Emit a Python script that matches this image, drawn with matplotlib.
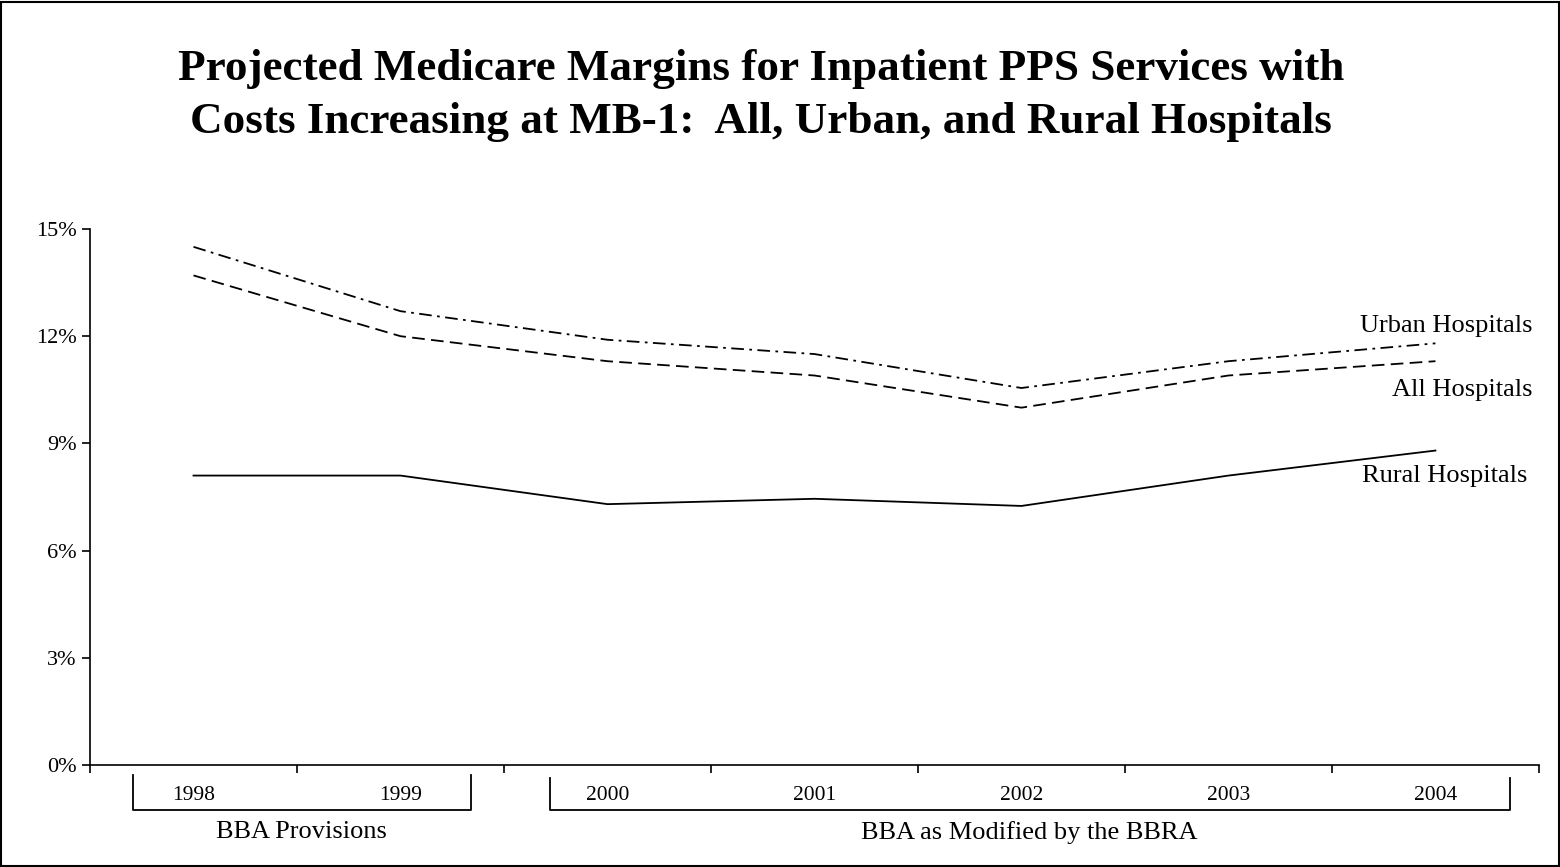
import numpy as np
import matplotlib.pyplot as plt
from matplotlib.patches import Rectangle

plt.rcParams['font.family'] = ['Liberation Serif', 'DejaVu Serif']

# data (margins in %)
years = ['1998', '1999', '2000', '2001', '2002', '2003', '2004']
urban = [14.5, 12.7, 11.9, 11.5, 10.55, 11.3, 11.8]
all_hosp = [13.7, 12.0, 11.3, 10.9, 10.0, 10.9, 11.3]
rural = [8.1, 8.1, 7.3, 7.45, 7.25, 8.1, 8.8]
yticks = [0, 3, 6, 9, 12, 15]

x = np.arange(len(years)) + 0.5

fig = plt.figure(figsize=(15.6, 8.67), dpi=100)
ax = fig.add_axes([0.0577, 0.1176, 0.9288, 0.6183])

ax.plot(x, urban, color='black', lw=1.3, linestyle=(0, (7, 3, 1.5, 3)))
ax.plot(x, all_hosp, color='black', lw=1.3, linestyle=(0, (7, 3.5)))
ax.plot(x, rural, color='black', lw=1.3)

ax.set_xlim(0, 7)
ax.set_ylim(0, 15)
ax.set_yticks(yticks, labels=[f'{v}%' for v in yticks])
ax.set_xticks(np.arange(8), labels=[''] * 8)
ax.set_xticks(x, labels=years, minor=True)
ax.tick_params(axis='both', which='major', direction='out', length=6, width=1.2, labelsize=16)
ax.tick_params(axis='x', which='minor', length=0, pad=15, labelsize=15.5)
for s in ['top', 'right']:
    ax.spines[s].set_visible(False)
for s in ['left', 'bottom']:
    ax.spines[s].set_linewidth(1.2)

# series labels
ax.text(6.97, 12.28, 'Urban Hospitals', ha='right', va='center', fontsize=19)
ax.text(6.97, 10.5, 'All Hospitals', ha='right', va='center', fontsize=19)
ax.text(6.945, 8.1, 'Rural Hospitals', ha='right', va='center', fontsize=19)

# brackets under the axis
tr = ax.get_xaxis_transform()
ax.plot([0.21, 0.21, 1.84, 1.84], [-0.019, -0.084, -0.084, -0.019],
        color='black', lw=1.3, transform=tr, clip_on=False)
ax.plot([2.22, 2.22, 6.86, 6.86], [-0.024, -0.084, -0.084, -0.024],
        color='black', lw=1.3, transform=tr, clip_on=False)
ax.text(1.02, -0.125, 'BBA Provisions', ha='center', va='center', fontsize=19, transform=tr)
ax.text(4.54, -0.125, 'BBA as Modified by the BBRA', ha='center', va='center', fontsize=19, transform=tr)

fig.text(0.488, 0.89, 'Projected Medicare Margins for Inpatient PPS Services with\n'
         'Costs Increasing at MB-1:  All, Urban, and Rural Hospitals',
         ha='center', va='center', fontsize=32.5, fontweight='bold', linespacing=1.43)

fig.patches.append(Rectangle((0.0006, 0.001), 0.9985, 0.997, transform=fig.transFigure,
                             fill=False, edgecolor='black', lw=1.5))

fig.savefig('out.png', dpi=100)
